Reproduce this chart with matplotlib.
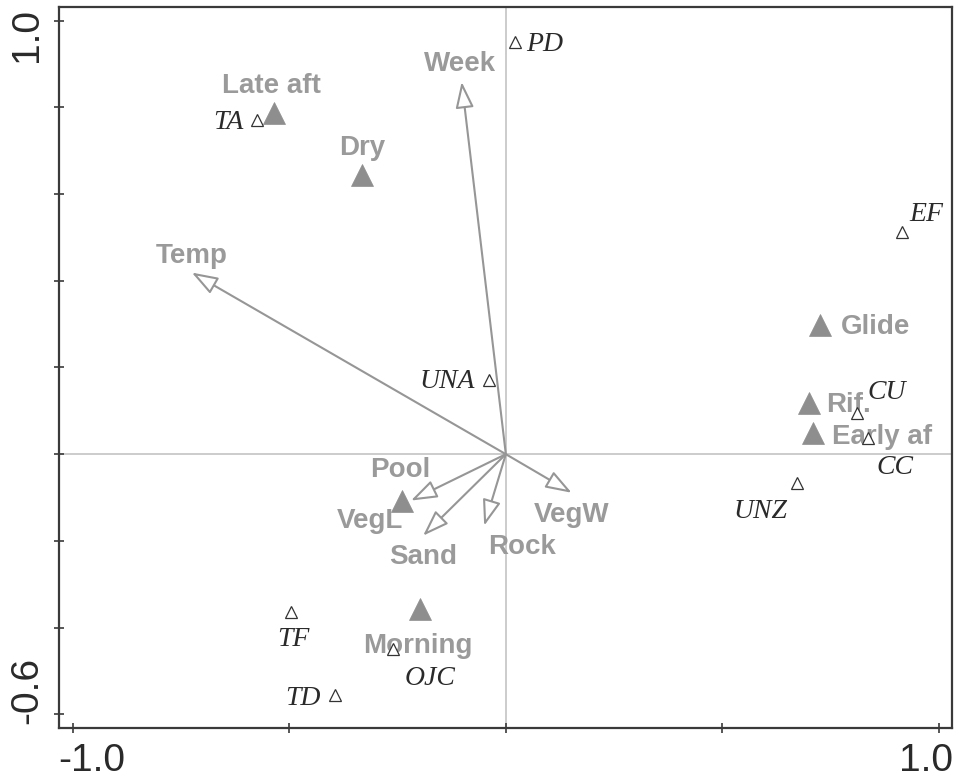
import matplotlib
matplotlib.use("Agg")
import matplotlib.pyplot as plt
import matplotlib.transforms as mtransforms

# Environmental variable arrows (biplot scores)
env_names = ["Week", "Temp", "Pool", "Sand", "Rock", "VegW"]
env_x = [-0.102, -0.725, -0.219, -0.191, -0.050, 0.152]
env_y = [0.859, 0.419, -0.107, -0.188, -0.165, -0.089]

# Nominal variable centroids
cent_names = ["Late aft", "Dry", "Glide", "Rif.", "Early af", "Morning", "VegL"]
cent_x = [-0.535, -0.331, 0.726, 0.700, 0.710, -0.198, -0.240]
cent_y = [0.788, 0.644, 0.298, 0.118, 0.049, -0.358, -0.109]

# Taxa scores
taxa_names = ["TA", "PD", "EF", "UNA", "CU", "CC", "UNZ", "TF", "TD", "OJC"]
taxa_x = [-0.574, 0.021, 0.914, -0.040, 0.810, 0.837, 0.672, -0.496, -0.394, -0.260]
taxa_y = [0.772, 0.951, 0.513, 0.172, 0.095, 0.037, -0.066, -0.365, -0.556, -0.450]

# Axis ticks
xticks = [-1.0, -0.5, 0.0, 0.5, 1.0]
yticks = [-0.6, -0.4, -0.2, 0.0, 0.2, 0.4, 0.6, 0.8, 1.0]

# Label placement: offset in pixels (dx, dy) and horizontal alignment
env_lab = {"Week": (-2, 18, "center"), "Temp": (0, 17, "center"),
           "Pool": (-11, 31, "center"), "Sand": (0, -21, "center"),
           "Rock": (38, -21, "center"), "VegW": (0, -22, "center")}
cent_lab = {"Late aft": (-3, 27, "center"), "Dry": (0, 27, "center"),
            "Glide": (21, -2, "left"), "Rif.": (17, -2, "left"),
            "Early af": (19, -4, "left"), "Morning": (-2, -37, "center"),
            "VegL": (-32, -20, "center")}
taxa_lab = {"TA": (-14, -3, "right"), "PD": (11, -2, "left"),
            "EF": (25, 17, "center"), "UNA": (-14, -2, "right"),
            "CU": (30, 21, "center"), "CC": (27, -29, "center"),
            "UNZ": (-37, -29, "center"), "TF": (2, -27, "center"),
            "TD": (-32, -3, "center"), "OJC": (37, -29, "center")}

GRAY = "#969696"
LABEL_GRAY = "#9a9a9a"
MARK_GRAY = "#8e8e8e"
DARK = "#2a2a2a"

fig = plt.figure(figsize=(9.55, 7.8), dpi=100)
ax = fig.add_axes([0.0618, 0.0671, 0.9347, 0.9235])
ax.set_xlim(-1.0316, 1.0293)
ax.set_ylim(-0.631, 1.031)

# Reference lines through the origin
ax.axhline(0, color="#c4c4c4", lw=1.2, zorder=1)
ax.axvline(0, color="#c4c4c4", lw=1.2, zorder=1)

bold = dict(family="Liberation Sans", weight="bold", size=20, color=LABEL_GRAY)
ital = dict(family="Liberation Serif", style="italic", size=20, color=DARK)

# Arrows for continuous variables
for name, x, y in zip(env_names, env_x, env_y):
    ax.annotate("", xy=(x, y), xytext=(0, 0),
                arrowprops=dict(arrowstyle="-|>,head_length=0.8,head_width=0.28",
                                mutation_scale=20, fc="white", ec=GRAY,
                                lw=1.5, shrinkA=0, shrinkB=0),
                zorder=2)
    dx, dy, ha = env_lab[name]
    ax.annotate(name, xy=(x, y), xytext=(dx, dy), textcoords="offset pixels",
                ha=ha, va="center", zorder=3, **bold)

# Centroids of nominal variables
for name, x, y in zip(cent_names, cent_x, cent_y):
    dx, dy, ha = cent_lab[name]
    ax.annotate(name, xy=(x, y), xytext=(dx, dy), textcoords="offset pixels",
                ha=ha, va="center", zorder=3, **bold)
ax.plot(cent_x, cent_y, ls="none", marker="^", ms=16, mfc=MARK_GRAY,
        mec=MARK_GRAY, mew=0.5, zorder=4)

# Taxa
ax.plot(taxa_x, taxa_y, ls="none", marker="^", ms=8.5, mfc="white",
        mec="#333333", mew=0.9, zorder=5)
for name, x, y in zip(taxa_names, taxa_x, taxa_y):
    dx, dy, ha = taxa_lab[name]
    ax.annotate(name, xy=(x, y), xytext=(dx, dy), textcoords="offset pixels",
                ha=ha, va="center", zorder=6, **ital)

# Frame and ticks
for sp in ax.spines.values():
    sp.set_color("#3a3a3a")
    sp.set_linewidth(1.6)
ax.set_xticks(xticks)
ax.set_yticks(yticks)
ax.set_xticklabels([])
ax.set_yticklabels([])
ax.tick_params(direction="inout", length=6.5, width=1.2, color="#3a3a3a")

# End-of-axis labels
tick_font = dict(family="Liberation Sans", size=28, color=DARK)
xt = mtransforms.blended_transform_factory(ax.transData, ax.transAxes)
yt = mtransforms.blended_transform_factory(ax.transAxes, ax.transData)
ax.text(-0.956, -0.0602, "-1.0", transform=xt, ha="center", va="baseline",
        clip_on=False, **tick_font)
ax.text(0.970, -0.0602, "1.0", transform=xt, ha="center", va="baseline",
        clip_on=False, **tick_font)
ax.text(-0.0246, 0.968, "1.0", transform=yt, ha="center", va="baseline",
        rotation=90, rotation_mode="anchor", clip_on=False, **tick_font)
ax.text(-0.0246, -0.546, "-0.6", transform=yt, ha="center", va="baseline",
        rotation=90, rotation_mode="anchor", clip_on=False, **tick_font)

fig.savefig("out.png", dpi=100)
